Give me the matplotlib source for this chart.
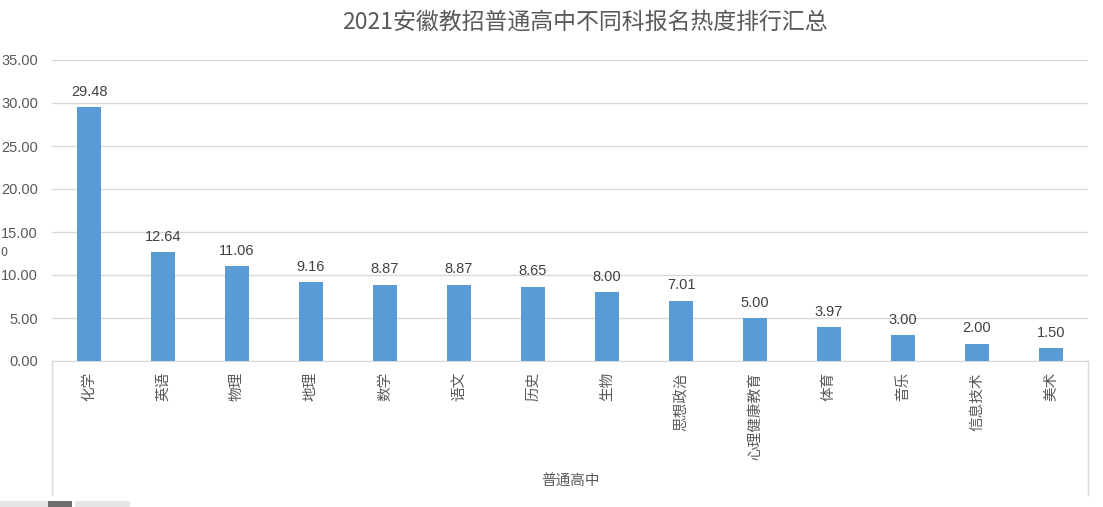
import matplotlib
matplotlib.use("Agg")
import matplotlib.pyplot as plt
from matplotlib.patches import Rectangle
from matplotlib.lines import Line2D

plt.rcParams['font.family'] = ['Noto Sans CJK SC', 'DejaVu Sans']

title = "2021安徽教招普通高中不同科报名热度排行汇总"
categories = ["化学", "英语", "物理", "地理", "数学", "语文", "历史", "生物",
              "思想政治", "心理健康教育", "体育", "音乐", "信息技术", "美术"]
values = [29.48, 12.64, 11.06, 9.16, 8.87, 8.87, 8.65, 8.00, 7.01, 5.00, 3.97, 3.00, 2.00, 1.50]
yticks = [0, 5, 10, 15, 20, 25, 30, 35]
group_label = "普通高中"

W, H = 1103, 507
fig = plt.figure(figsize=(W/100, H/100), dpi=100)
L, R, T, B = 52, 1088, 60, 361
ax = fig.add_axes([L/W, 1-B/H, (R-L)/W, (B-T)/H])

x = list(range(len(categories)))
ax.bar(x, values, width=0.32, color="#5B9BD5", zorder=3)
ax.set_xlim(-0.5, len(categories)-0.5)
ax.set_ylim(0, 35)
ax.set_yticks(yticks)
ax.set_yticklabels([f"{v:.2f}" for v in yticks], fontsize=10.5, color="#595959",
                   family=['Liberation Sans', 'DejaVu Sans'])
ax.tick_params(axis='y', length=0, pad=10)
ax.grid(axis='y', color="#D9D9D9", linewidth=1, zorder=0)
for s in ["top", "right", "left"]:
    ax.spines[s].set_visible(False)
ax.spines["bottom"].set_color("#D9D9D9")
ax.set_xticks(x)
ax.set_xticklabels([])
ax.tick_params(axis='x', length=0)

for xi, v in zip(x, values):
    ax.annotate(f"{v:.2f}", (xi, v), xytext=(0, 6), textcoords="offset points",
                ha="center", va="bottom", fontsize=10.5, color="#404040",
                family=['Liberation Sans', 'DejaVu Sans'])

for xi, c in zip(x, categories):
    ax.annotate(c, (xi, 0), xytext=(0, -8), textcoords="offset points",
                ha="center", va="top", rotation=90, fontsize=10.5, color="#595959")

# category group box lines
for px in (L, R):
    fig.add_artist(Line2D([px/W, px/W], [1-B/H, 1-495/H], color="#D9D9D9", linewidth=1))
fig.text((L+R)/2/W, 1-481/H, group_label, ha="center", va="center", fontsize=10.5, color="#595959")

fig.text(585/W, 1-22/H, title, ha="center", va="center", fontsize=16.5, color="#595959")

# small artifact at left edge
fig.text(0.5/W, 1-252/H, "0", ha="left", va="center", fontsize=9, color="#595959")

# scrollbar remnants
fig.add_artist(Rectangle((0, 0), 130/W, 6/H, transform=fig.transFigure, color="#E6E6E6", lw=0))
fig.add_artist(Rectangle((48/W, 0), 24/W, 6/H, transform=fig.transFigure, color="#6E6E6E", lw=0))
fig.add_artist(Rectangle((72/W, 0), 3/W, 6/H, transform=fig.transFigure, color="#FFFFFF", lw=0))

fig.savefig("out.png", dpi=100)
